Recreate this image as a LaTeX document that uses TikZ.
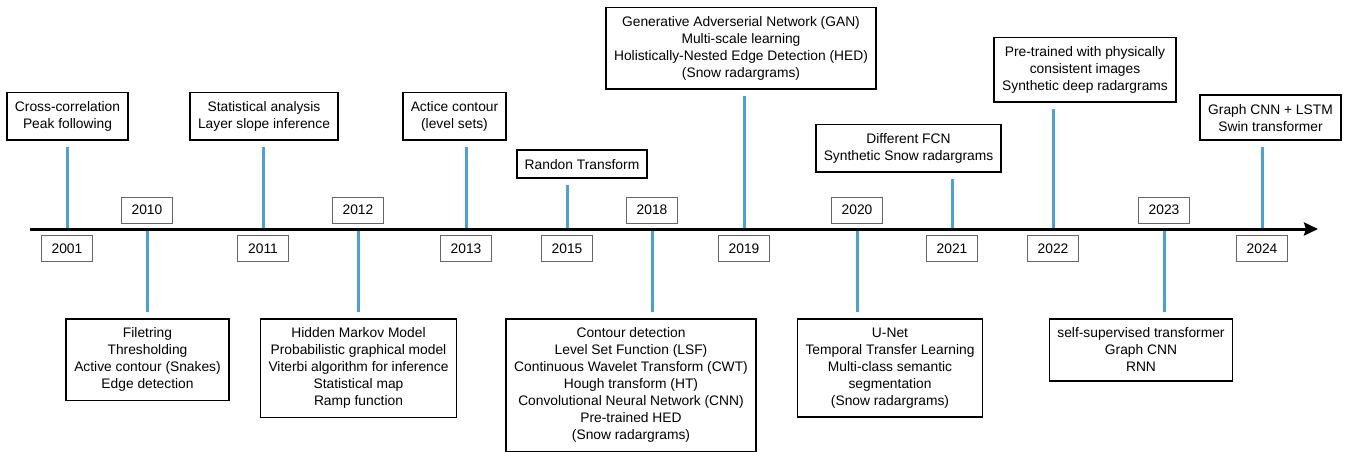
\documentclass[tikz,border=0pt]{standalone}
\usepackage{fontspec}
\setmainfont{Liberation Sans}
\usetikzlibrary{arrows.meta}
\definecolor{stemblue}{RGB}{76,160,218}
\begin{document}
\begin{tikzpicture}[x=1pt, y=-1pt, font=\fontsize{13.8}{17}\selectfont,
  yearbox/.style={draw=gray!80!black, line width=0.8pt, minimum width=51pt, minimum height=26pt, inner sep=0pt},
  descbox/.style={draw, line width=1.6pt, align=center, inner xsep=8pt, inner ysep=9pt},
  stem/.style={draw=stemblue, line width=3pt, shorten >=6pt}]
  \useasboundingbox (0,0) rectangle (1347,451);
  % events above the axis (year label below)
  \foreach \yr/\tx/\bx/\by/\txt in {
    2001/67/67.5/141/{Cross-correlation\\Peak following},
    2011/263/264/141/{Statistical analysis\\Layer slope inference},
    2013/466/454.5/141/{Actice contour\\(level sets)},
    2015/567/582/179/{Randon Transform},
    2019/744/741/90/{Generative Adverserial Network (GAN)\\Multi-scale learning\\Holistically-Nested Edge Detection (HED)\\(Snow radargrams)},
    2021/952/908.5/173/{Different FCN\\Synthetic Snow radargrams},
    2022/1053/1085/103/{Pre-trained with physically\\consistent images\\Synthetic deep radargrams},
    2024/1262/1270.5/141/{Graph CNN + LSTM\\Swin transformer}} {
    \coordinate (t\yr) at (\tx,229);
    \node[yearbox] (y\yr) at (\tx,248.5) {\yr};
    \node[descbox, anchor=south] (d\yr) at (\bx,\by) {\txt};
    \draw[stem] (t\yr) -- (t\yr |- d\yr.south);
  }
  % events below the axis (year label above)
  \foreach \yr/\tx/\bx/\txt in {
    2010/147/147.5/{Filetring\\Thresholding\\Active contour (Snakes)\\Edge detection},
    2012/358/358.5/{Hidden Markov Model\\Probabilistic graphical model\\Viterbi algorithm for inference\\Statistical map\\Ramp function},
    2018/652/631/{Contour detection\\Level Set Function (LSF)\\Continuous Wavelet Transform (CWT)\\Hough transform (HT)\\Convolutional Neural Network (CNN)\\Pre-trained HED\\(Snow radargrams)},
    2020/857/890/{U-Net\\Temporal Transfer Learning\\Multi-class semantic\\segmentation\\(Snow radargrams)},
    2023/1164/1141/{self-supervised transformer\\Graph CNN\\RNN}} {
    \coordinate (t\yr) at (\tx,229);
    \node[yearbox] (y\yr) at (\tx,210) {\yr};
    \node[descbox, anchor=north] (d\yr) at (\bx,318) {\txt};
    \draw[stem] (t\yr) -- (t\yr |- d\yr.north);
  }
  % time axis
  \coordinate (start) at (30,229);
  \coordinate (end) at (1318,229);
  \draw[line width=3pt, -{Stealth[length=14pt, width=13pt, inset=2pt]}] (start) -- (end);
\end{tikzpicture}
\end{document}
